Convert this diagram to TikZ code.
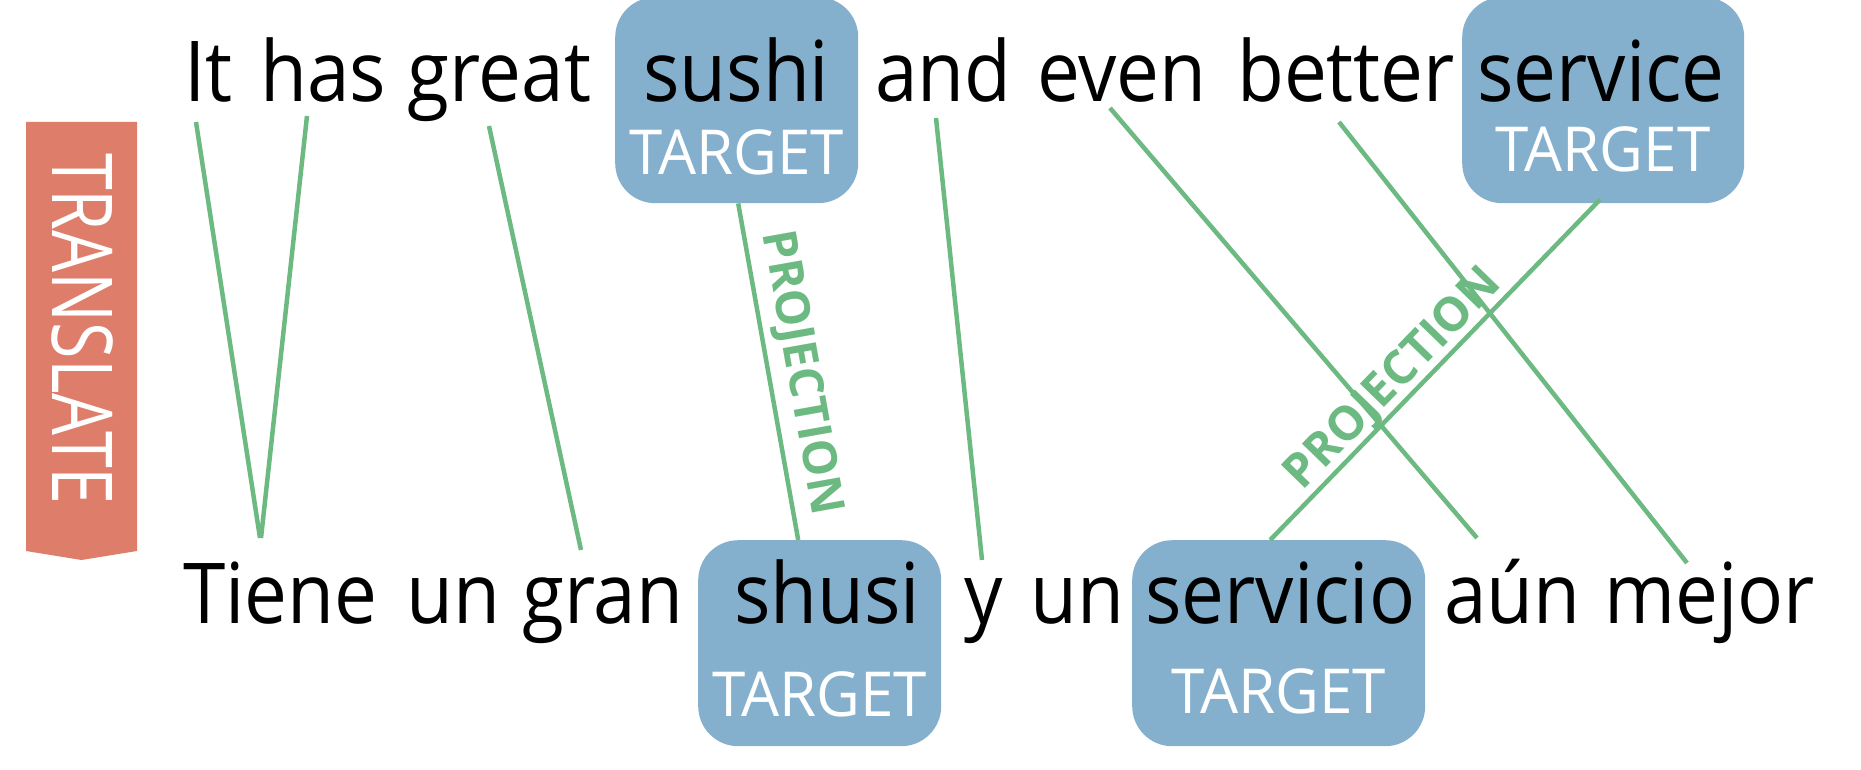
\documentclass[tikz,border=0pt]{standalone}
\usepackage{fontspec}
\setmainfont{Open Sans}
\newfontfamily\wordf[FakeStretch=0.91]{Open Sans}
\newfontfamily\tgtf[FakeStretch=0.97]{Open Sans}
\newfontfamily\bannerf[FakeStretch=0.79]{Open Sans}
\newfontfamily\projf{Open Sans}
\definecolor{boxblue}{HTML}{85B0CD}
\definecolor{linkgreen}{HTML}{6CBA82}
\definecolor{bannerred}{HTML}{DE7E6A}
\begin{document}
\begin{tikzpicture}[x=1pt,y=-1pt,
  word/.style={font=\wordf\fontsize{84}{90}\selectfont, inner sep=0pt, anchor=base west},
  tbox/.style={fill=boxblue, draw=none, rounded corners=40pt, inner sep=0pt, anchor=north west, minimum height=206pt},
  tlabel/.style={font=\tgtf\fontsize{62}{70}\selectfont, text=white, inner sep=0pt, anchor=base},
  link/.style={draw=linkgreen, line width=4.5pt},
  projlabel/.style={font=\projf\bfseries\fontsize{47}{52}\selectfont, text=linkgreen, inner sep=0pt, sloped},
  bannertext/.style={font=\bannerf\fontsize{84}{90}\selectfont, text=white, inner sep=0pt, rotate=-90}
]
\useasboundingbox (0,0) rectangle (1861,770);

% banner
\fill[bannerred] (26,122) -- (137,122) -- (137,551) -- (81.5,560) -- (26,551) -- cycle;
\node[bannertext] (translate) at (83,329) {TRANSLATE};

% target boxes
\node[tbox, minimum width=243pt] (box-sushi) at (615,-3) {};
\node[tbox, minimum width=282pt] (box-service) at (1462,-3) {};
\node[tbox, minimum width=243pt] (box-shusi) at (698,540) {};
\node[tbox, minimum width=293pt] (box-servicio) at (1132,540) {};

\node[tlabel] (t-sushi) at (736.5,175) {TARGET};
\node[tlabel] (t-service) at (1603,172) {TARGET};
\node[tlabel] (t-shusi) at (819.5,716) {TARGET};
\node[tlabel] (t-servicio) at (1278.5,713) {TARGET};

% English sentence
\node[word] (w-it) at (184,102) {It};
\node[word] (w-has) at (260,102) {has};
\node[word] (w-great) at (407,102) {great};
\node[word] (w-sushi) at (643,102) {sushi};
\node[word] (w-and) at (875,102) {and};
\node[word] (w-even) at (1037,102) {even};
\node[word] (w-better) at (1237,102) {better};
\node[word] (w-service) at (1477,102) {service};

% Spanish sentence
\node[word] (w-tiene) at (183,623) {Tiene};
\node[word] (w-un1) at (406,623) {un};
\node[word] (w-gran) at (522,623) {gran};
\node[word] (w-shusi) at (734,623) {shusi};
\node[word] (w-y) at (964,623) {y};
\node[word] (w-un2) at (1030,623) {un};
\node[word] (w-servicio) at (1145,623) {servicio};
\node[word] (w-aun) at (1444,623) {aún};
\node[word] (w-mejor) at (1604,623) {mejor};

% alignment links
\draw[link] ([xshift=12pt,yshift=-20pt]w-it.base west) -- ([xshift=77pt,yshift=85pt]w-tiene.base west);
\draw[link] ([xshift=47pt,yshift=-14pt]w-has.base west) -- ([xshift=78pt,yshift=85pt]w-tiene.base west);
\draw[link] ([xshift=82pt,yshift=-24pt]w-great.base west) -- ([xshift=59pt,yshift=73pt]w-gran.base west);
\draw[link] ([xshift=1.5pt]box-sushi.south) -- node[projlabel, pos=0.52, above=7pt] {PROJECTION} ([xshift=-21.5pt]box-shusi.north);
\draw[link] ([xshift=61pt,yshift=-16pt]w-and.base west) -- ([xshift=18pt,yshift=63pt]w-y.base west);
\draw[link] ([xshift=73pt,yshift=-6pt]w-even.base west) -- ([xshift=33pt,yshift=85pt]w-aun.base west);
\draw[link] ([xshift=102pt,yshift=-20pt]w-better.base west) -- ([xshift=83pt,yshift=60pt]w-mejor.base west);
\draw[link] ([xshift=-3pt,yshift=4pt]box-service.south) -- node[projlabel, pos=0.575, above=-2pt] {PROJECTION} ([xshift=-8.5pt]box-servicio.north);
\end{tikzpicture}
\end{document}
